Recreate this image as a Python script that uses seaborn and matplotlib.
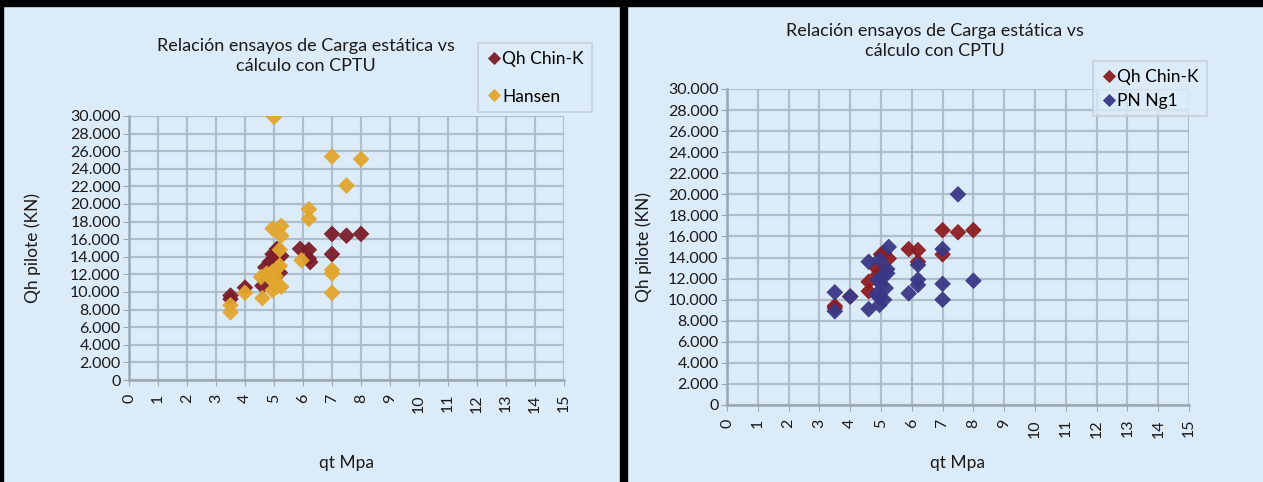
import numpy as np
import pandas as pd
import matplotlib
matplotlib.use("Agg")
import matplotlib.pyplot as plt
import seaborn as sns
from matplotlib.patches import Rectangle
from matplotlib.ticker import FuncFormatter

# Panel izquierdo: Qh Chin-K y Hansen
chin_left_qt = [3.5, 3.5, 4.0, 4.6, 4.7, 4.85, 4.95, 5.0, 5.1, 5.25, 5.1, 5.2, 4.8,
                5.9, 6.2, 6.2, 6.25, 7.0, 7.0, 7.5, 8.0]
chin_left_qh = [9600, 9200, 10500, 10700, 12800, 13400, 14300, 13900, 14900, 14100, 12600,
                12200, 12000, 14900, 14800, 13800, 13400, 16600, 14300, 16400, 16600]
hansen_qt = [5.0, 7.0, 8.0, 7.5, 6.2, 6.2, 4.95, 5.25, 5.25, 5.2, 5.95, 7.0, 7.0, 7.0,
             3.5, 3.5, 4.0, 4.6, 4.55, 4.75, 4.95, 5.1, 5.25, 4.95, 5.15, 4.95, 5.05, 5.2]
hansen_qh = [29900, 25400, 25100, 22100, 19400, 18300, 17200, 17500, 16400, 14800, 13600,
             12500, 12100, 9900, 8500, 7700, 9900, 9300, 11700, 12100, 11300, 10600, 10600,
             12300, 12800, 10200, 11800, 13000]

# Panel derecho: Qh Chin-K y PN Ng1
chin_right_qt = [3.5, 3.5, 4.0, 4.6, 4.6, 4.85, 5.0, 5.1, 5.25, 4.9, 5.1,
                 5.9, 6.2, 6.2, 7.0, 7.0, 7.5, 8.0]
chin_right_qh = [9400, 9200, 10300, 10800, 11700, 13000, 14300, 14400, 13900, 12400, 12800,
                 14800, 14700, 13600, 16600, 14300, 16400, 16600]
ng1_qt = [3.5, 3.5, 4.0, 4.6, 4.6, 5.25, 4.95, 5.05, 4.95, 4.95, 5.15, 4.85, 5.2, 5.0, 5.1,
          4.9, 5.2, 5.9, 6.2, 6.2, 6.2, 7.0, 7.0, 7.0, 7.5, 8.0]
ng1_qh = [10700, 8900, 10300, 9100, 13600, 15000, 13800, 12100, 10200, 9500, 11100, 10500,
          12500, 11500, 10000, 11900, 12900, 10600, 13300, 11900, 11400, 14800, 11500, 10000,
          20000, 11800]

x_ticks = list(range(0, 16))
y_ticks = list(range(0, 30001, 2000))

BG = "#dcebf8"
GRID = "#a9bac6"
plt.rcParams["font.family"] = ["Lato", "DejaVu Sans"]

fig = plt.figure(figsize=(12.63, 4.82), dpi=100)
fig.patch.set_facecolor(BG)

ax1 = fig.add_axes([129 / 1263, 1 - 380 / 482, 435 / 1263, 264 / 482])
ax2 = fig.add_axes([727 / 1263, 1 - 405 / 482, 462 / 1263, 316 / 482])

left_df = pd.DataFrame({
    "qt": chin_left_qt + hansen_qt,
    "qh": chin_left_qh + hansen_qh,
    "serie": ["Qh Chin-K"] * len(chin_left_qt) + ["Hansen"] * len(hansen_qt),
})
right_df = pd.DataFrame({
    "qt": chin_right_qt + ng1_qt,
    "qh": chin_right_qh + ng1_qh,
    "serie": ["Qh Chin-K"] * len(chin_right_qt) + ["PN Ng1"] * len(ng1_qt),
})

panels = [
    (ax1, left_df, {"Qh Chin-K": "#7b1e2a", "Hansen": "#e2a62e"}, 1.25,
     (478 / 1263, 1 - 43 / 482)),
    (ax2, right_df, {"Qh Chin-K": "#8c1d22", "PN Ng1": "#3a3886"}, 0.45,
     (1093 / 1263, 1 - 61 / 482)),
]

fmt = FuncFormatter(lambda v, p: f"{v:,.0f}".replace(",", "."))

for ax, df, pal, lspace, anchor in panels:
    ax.set_facecolor(BG)
    sns.scatterplot(data=df, x="qt", y="qh", hue="serie", palette=pal, marker="D",
                    s=62, linewidth=0.6, edgecolor="face", alpha=0.95, ax=ax,
                    legend=True, zorder=3)
    ax.set_xlim(0, 15)
    ax.set_ylim(0, 30000)
    ax.set_xticks(x_ticks)
    ax.set_yticks(y_ticks)
    ax.yaxis.set_major_formatter(fmt)
    ax.grid(True, color=GRID, linewidth=1.6, alpha=0.9)
    ax.set_axisbelow(True)
    for side in ["top", "right"]:
        ax.spines[side].set_visible(False)
    for side in ["left", "bottom"]:
        ax.spines[side].set_color("#9aa8b2")
        ax.spines[side].set_linewidth(1.8)
    ax.tick_params(axis="both", colors="#9aa8b2", length=4, labelcolor="#1a1a1a",
                   labelsize=11.5)
    ax.tick_params(axis="x", labelrotation=90, pad=6)
    ax.tick_params(axis="y", pad=2)
    ax.set_xlabel("qt Mpa", fontsize=12.5, color="#1a1a1a")
    ax.set_ylabel("Qh pilote (KN)", fontsize=12.5, color="#1a1a1a")
    leg = ax.legend(loc="upper left", bbox_to_anchor=anchor, bbox_transform=fig.transFigure,
                    fontsize=12.5, frameon=True, fancybox=False, labelspacing=lspace,
                    handletextpad=0.05, handlelength=0.9, borderpad=0.45,
                    borderaxespad=0, markerscale=0.75)
    leg.get_frame().set_facecolor(BG)
    leg.get_frame().set_edgecolor("#c4d0d9")
    leg.get_frame().set_linewidth(1.5)

ax1.xaxis.set_label_coords(0.5, -0.285)
ax1.yaxis.set_label_coords(-0.202, 0.5)
ax2.xaxis.set_label_coords(0.5, -0.158)
ax2.yaxis.set_label_coords(-0.162, 0.5)

title = "Relación ensayos de Carga estática vs\ncálculo con CPTU"
fig.text(306 / 1263, 1 - 56 / 482, title, ha="center", va="center", fontsize=13,
         color="#1a1a1a", linespacing=1.25)
fig.text(935 / 1263, 1 - 41 / 482, title, ha="center", va="center", fontsize=13,
         color="#1a1a1a", linespacing=1.25)

# marcos negros de los paneles
fig.add_artist(Rectangle((0, 1 - 6 / 482), 1, 6 / 482, transform=fig.transFigure,
                         color="black"))
fig.add_artist(Rectangle((0, 0), 3 / 1263, 1, transform=fig.transFigure, color="black"))
fig.add_artist(Rectangle((620 / 1263, 0), 7 / 1263, 1, transform=fig.transFigure,
                         color="black"))

fig.savefig("out.png", dpi=100, facecolor=fig.get_facecolor())
